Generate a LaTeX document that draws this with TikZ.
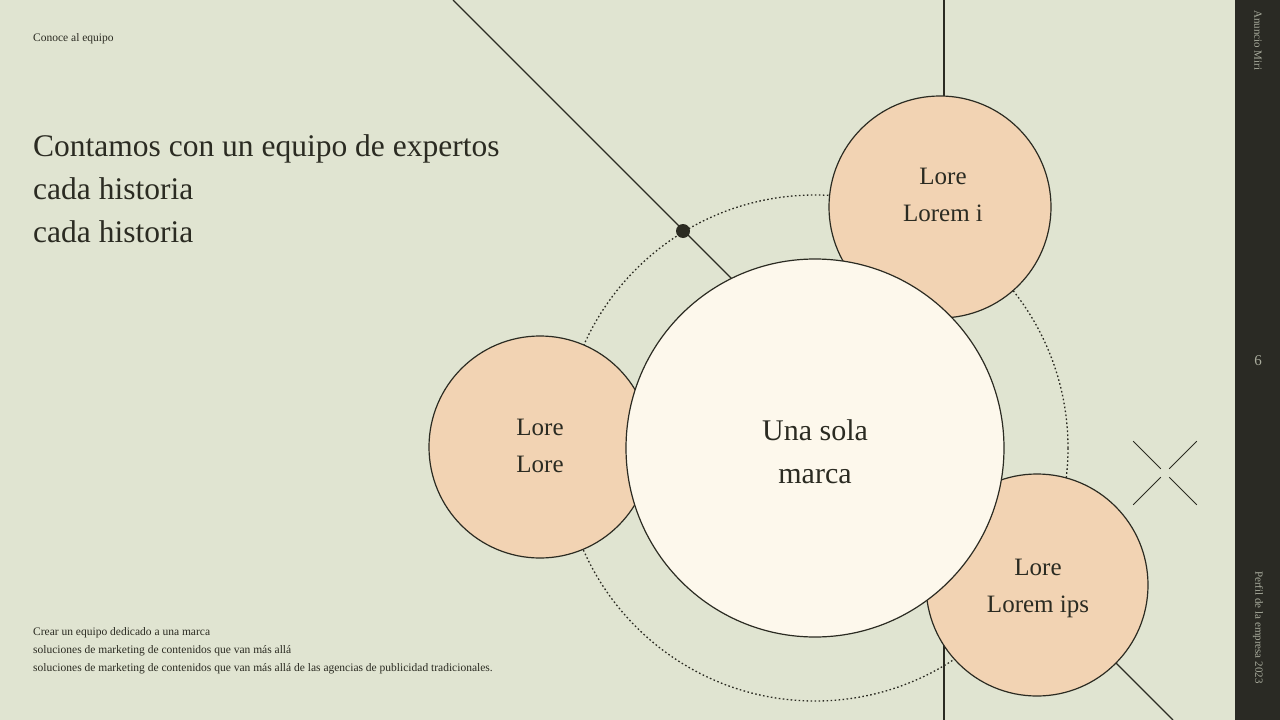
\documentclass[tikz,border=0pt]{standalone}
\usepackage{fontspec}
\setmainfont{Liberation Serif}
\usetikzlibrary{calc}
\definecolor{bg}{HTML}{E0E4D1}
\definecolor{side}{HTML}{2A2A24}
\definecolor{peach}{HTML}{F2D3B3}
\definecolor{cream}{HTML}{FDF8EC}
\definecolor{ink}{HTML}{2B2B22}
\begin{document}
\begin{tikzpicture}[x=1pt,y=-1pt,
  ln/.style={draw=ink,line width=1.2pt},
  small/.style={circle,draw=ink,line width=1.2pt,fill=peach,minimum size=222pt,inner sep=0pt},
  ctext/.style={align=center,font=\fontsize{25}{37}\selectfont,text=ink,inner sep=0pt},
  tiny/.style={font=\fontsize{11.5}{18}\selectfont,text=ink,anchor=north west,align=left,inner sep=0pt},
  sidetxt/.style={font=\fontsize{11}{13}\selectfont,text=bg!70!side,inner sep=0pt}]
\fill[bg] (0,0) rectangle (1280,720);
\useasboundingbox (0,0) rectangle (1280,720);
\fill[side] (1235,0) rectangle (1280,720);
\coordinate (l1) at (453,0); \coordinate (l2) at (1173,720);
\coordinate (v1) at (944,0); \coordinate (v2) at (944,720);
\draw[ln] (l1) -- (l2);
\draw[ln] (v1) -- (v2);
\node[circle,fill=ink,minimum size=14pt,inner sep=0pt] (dot) at (683,231) {};
\node[circle,draw=ink,dash pattern=on 1.6pt off 2.4pt,line width=1.3pt,minimum size=506pt,inner sep=0pt] (orb) at (815,448) {};
\node[small] (t) at (940,207) {};
\node[ctext] (tt) at (943,195) {Lore\\Lorem i};
\node[small] (l) at (540,447) {};
\node[ctext] (lt) at (540,446) {Lore\\Lore};
\node[small] (b) at (1037,585) {};
\node[ctext] (bt) at (1038,588) {Lore\\Lorem ips};
\node[circle,draw=ink,line width=1.2pt,fill=cream,minimum size=378pt,inner sep=0pt] (c) at (815,448) {};
\node[align=center,font=\fontsize{30}{43}\selectfont,text=ink,inner sep=0pt] (ct) at (815,452) {Una sola\\marca};
\foreach \a in {45,135,225,315}{
  \draw[ink,line width=0.8pt] ($(1165,473)+(\a:6)$) -- ($(1165,473)+(\a:45)$);
}
\node[tiny] (h) at (33,33) {Conoce al equipo};
\node[font=\fontsize{31.5}{43}\selectfont,text=ink,anchor=north west,align=left,inner sep=0pt] (title) at (33,134) {Contamos con un equipo de expertos\\cada historia\\cada historia};
\node[tiny] (foot) at (33,627) {Crear un equipo dedicado a una marca\\soluciones de marketing de contenidos que van más allá\\soluciones de marketing de contenidos que van más allá de las agencias de publicidad tradicionales.};
\node[sidetxt,rotate=-90,anchor=west] (s1) at (1258,10) {Anuncio Miri};
\node[sidetxt,font=\fontsize{15}{17}\selectfont] (s2) at (1258,361) {6};
\node[sidetxt,rotate=-90,anchor=west] (s3) at (1258,571) {Perfil de la empresa 2023};
\end{tikzpicture}
\end{document}
